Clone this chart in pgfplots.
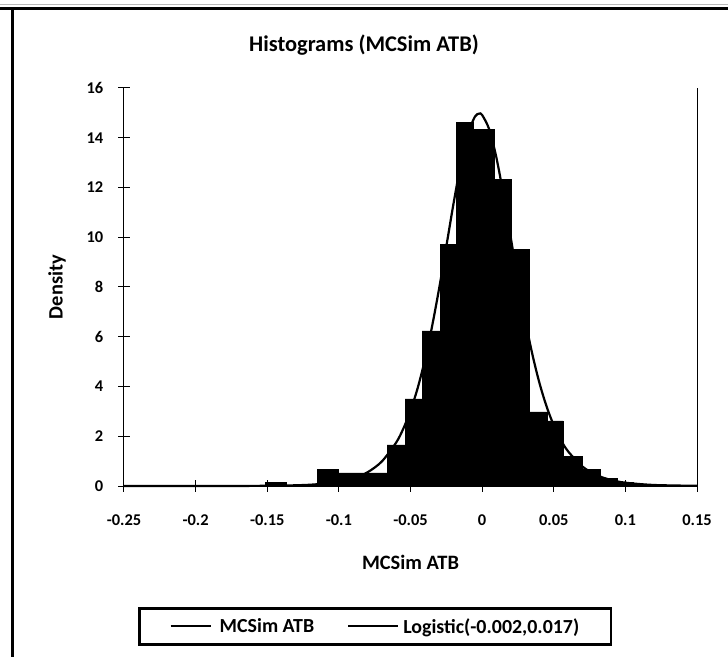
\documentclass[border=0pt]{standalone}
\usepackage{fontspec}
\setmainfont{Carlito}
\usepackage{pgfplots}
\pgfplotsset{compat=1.18}

% histogram: left bin edges and density (last edge closes the interval)
\newcommand{\histdata}{
(-0.1515,0.15)(-0.1369,0)(-0.1278,0.07)(-0.1152,0.68)(-0.1006,0.53)
(-0.0663,1.65)(-0.0538,3.50)(-0.0419,6.24)(-0.0293,9.72)(-0.0182,14.63)
(-0.0063,14.34)(0.0084,12.33)(0.0203,9.52)(0.0328,2.98)(0.0454,2.62)
(0.0566,1.18)(0.0698,0.68)(0.0824,0.32)(0.0940,0.15)(0.1054,0.07)(0.1243,0)
}

\begin{document}
\begin{tikzpicture}
\useasboundingbox (0,0) rectangle (728bp,657bp);
% chart frame
\draw[gray!55, line width=1bp] (0,652bp) -- (728bp,652bp);
\draw[black, line width=3bp] (0,648bp) -- (728bp,648bp);
\draw[black, line width=3bp] (12bp,648bp) -- (12bp,0);
\node[font=\fontsize{22.5}{26}\selectfont\bfseries] at (364bp,612bp) {Histograms (MCSim ATB)};

\begin{axis}[
  at={(124bp,171bp)}, anchor=south west,
  scale only axis, width=573bp, height=398bp,
  xmin=-0.25, xmax=0.15, ymin=0, ymax=16,
  axis x line*=bottom, axis y line*=left,
  x axis line style={line width=2bp},
  y axis line style={line width=1bp},
  xtick={-0.25,-0.2,-0.15,-0.1,-0.05,0,0.05,0.1,0.15},
  xticklabels={-0.25,-0.2,-0.15,-0.1,-0.05,0,0.05,0.1,0.15},
  ytick={0,2,4,6,8,10,12,14,16},
  yticklabels={0,2,4,6,8,10,12,14,16},
  tick align=center, major tick length=11bp,
  tick style={black, line width=1bp},
  tick label style={font=\fontsize{16.5}{19}\selectfont\bfseries, inner sep=0pt},
  xticklabel style={anchor=north, yshift=-23bp},
  yticklabel style={anchor=east, xshift=-15bp},
  xlabel={MCSim ATB}, ylabel={Density},
  label style={font=\fontsize{20.5}{24}\selectfont\bfseries},
  xlabel style={at={(axis description cs:0.5,0)}, anchor=center, yshift=-76bp},
  ylabel style={at={(axis description cs:0,0.5)}, anchor=center, rotate=0, yshift=67bp},
  legend columns=2,
  legend style={at={(axis description cs:0.4389,-0.3530)}, anchor=center,
    draw=black, line width=2.5bp, inner xsep=30bp, inner ysep=8bp,
    font=\fontsize{20}{24}\selectfont\bfseries,
    /tikz/column 1/.style={column sep=6bp},
    /tikz/column 2/.style={column sep=31bp},
    /tikz/column 3/.style={column sep=2bp}},
  clip=false,
]
\addplot[ybar interval, fill=black, draw=black, line width=0.4bp, forget plot] coordinates {\histdata};
\addplot[black, line width=2.2bp, smooth, tension=0.5, forget plot] coordinates {
(-0.25,0)(-0.2,0.0004)(-0.15,0.0085)(-0.12,0.051)(-0.1,0.169)(-0.09,0.305)
(-0.08,0.551)(-0.07,0.987)(-0.06,1.748)(-0.055,2.308)(-0.05,3.030)(-0.045,3.937)
(-0.04,5.061)(-0.035,6.403)(-0.03,7.946)(-0.025,9.634)(-0.02,11.343)(-0.015,12.915)
(-0.01,14.143)(-0.005,14.850)(-0.002,14.97)(0,14.916)(0.005,14.331)(0.01,13.192)
(0.015,11.675)(0.02,9.977)(0.025,8.276)(0.03,6.697)(0.035,5.311)(0.04,4.145)
(0.045,3.196)(0.05,2.439)(0.055,1.849)(0.06,1.393)(0.07,0.782)(0.08,0.435)
(0.09,0.241)(0.1,0.133)(0.12,0.040)(0.15,0.007)
};
\draw[black, line width=1bp] (rel axis cs:1,0) -- (rel axis cs:1,1);
\addlegendimage{legend image code/.code={\draw[black, line width=2bp] (0bp,0bp) -- (40bp,0bp);}}
\addlegendentry{MCSim ATB}
\addlegendimage{legend image code/.code={\draw[black, line width=2bp] (0bp,0bp) -- (50bp,0bp);}}
\addlegendentry{Logistic(-0.002,0.017)}
\end{axis}
\end{tikzpicture}
\end{document}
